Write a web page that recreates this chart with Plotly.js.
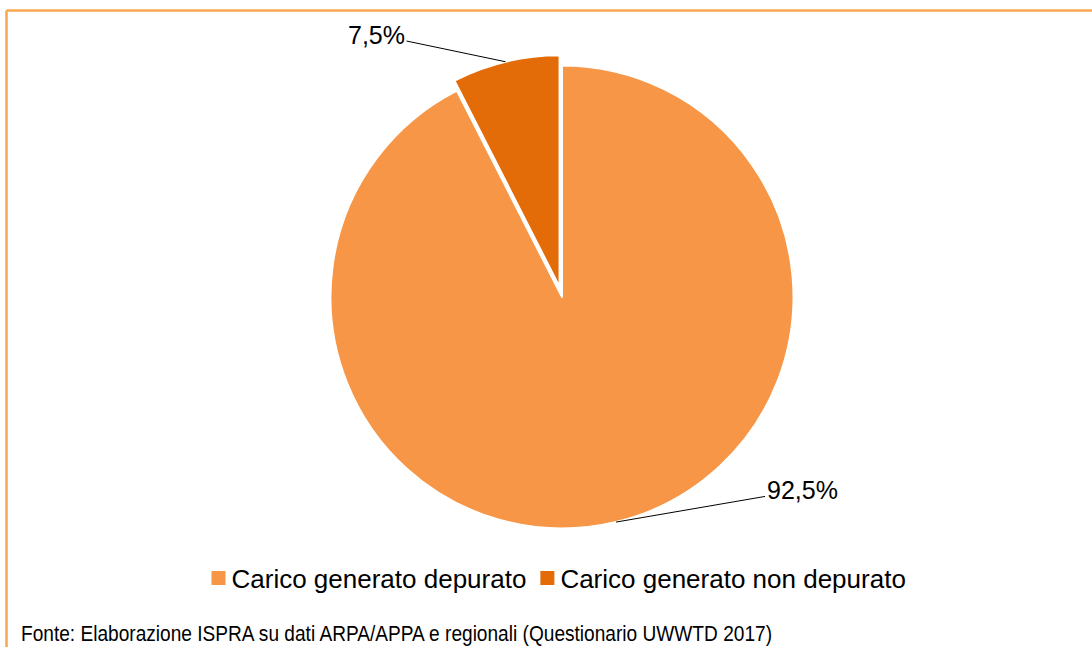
<!DOCTYPE html>
<html>
<head>
<meta charset="utf-8">
<script src="https://cdn.plot.ly/plotly-3.0.1.min.js"></script>
<style>html,body{margin:0;padding:0;background:#fff;}#chart{width:1092px;height:647px;}</style>
</head>
<body>
<div id="chart"></div>
<script>
// ---- data ----
var categories = ["Carico generato depurato", "Carico generato non depurato"];
var values = [92.5, 7.5];
var sourceNote = "Fonte: Elaborazione ISPRA su dati ARPA/APPA e regionali (Questionario UWWTD 2017)";

// ---- style ----
var colors = ["#F79646", "#E36C09"];
var pulls = [0, 0.045];
var labelOffsets = [[186, -32], [-129, -27]]; // text offset (px) from slice edge
var W = 1092, H = 647;
var domX = [0.2, 0.8293], domY = [0.1671, 0.9149];
var noteLeft = 19, noteWidth = 751;

var total = values.reduce(function(a, b){ return a + b; }, 0);
var maxPull = Math.max.apply(null, pulls);
var boxW = W * (domX[1] - domX[0]), boxH = H * (domY[1] - domY[0]);
var r = Math.min(boxW, boxH) / (2 + 2 * maxPull);
var cx = W * (domX[0] + domX[1]) / 2;
var cy = H * (1 - domY[0]) - boxH / 2;

var annotations = [];
var cum = 0;
for (var i = 0; i < values.length; i++) {
  var frac = values[i] / total;
  var mid = (cum + frac / 2) * 2 * Math.PI; // clockwise from 12 o'clock
  cum += frac;
  var pr = r * (1 + pulls[i]);
  var px = cx + pr * Math.sin(mid);
  var py = cy - pr * Math.cos(mid);
  annotations.push({
    x: px / W, y: 1 - py / H, xref: 'paper', yref: 'paper',
    text: (frac * 100).toFixed(1).replace('.', ',') + '%',
    showarrow: true, arrowhead: 0, arrowwidth: 1, arrowcolor: '#000', standoff: 0,
    ax: labelOffsets[i][0], ay: labelOffsets[i][1],
    font: {family: 'Liberation Sans, Arial, sans-serif', size: 25, color: '#000'}
  });
}
annotations.push({
  x: noteLeft / W, y: 1 - 633 / H, xref: 'paper', yref: 'paper', xanchor: 'left', yanchor: 'middle',
  text: sourceNote, showarrow: false,
  font: {family: 'Liberation Sans, Arial, sans-serif', size: 22, color: '#000'}
});

var trace = {
  type: 'pie',
  labels: categories,
  values: values,
  sort: false,
  direction: 'clockwise',
  rotation: 0,
  pull: pulls,
  textinfo: 'none',
  hoverinfo: 'label+percent',
  marker: {colors: colors, line: {color: '#fff', width: 2}},
  domain: {x: domX, y: domY}
};

var layout = {
  width: W, height: H,
  margin: {l: 0, r: 0, t: 0, b: 0},
  paper_bgcolor: '#fff',
  separators: ',.',
  showlegend: true,
  legend: {
    orientation: 'h', x: 557 / W, xanchor: 'center', y: 1 - 578 / H, yanchor: 'middle',
    font: {family: 'Liberation Sans, Arial, sans-serif', size: 26, color: '#000'},
    itemclick: false
  },
  annotations: annotations,
  shapes: [
    {type: 'line', xref: 'paper', yref: 'paper', x0: 6.5 / W, x1: 1, y0: 1 - 10.5 / H, y1: 1 - 10.5 / H, line: {color: '#F9A64E', width: 2.5}},
    {type: 'line', xref: 'paper', yref: 'paper', x0: 6.5 / W, x1: 6.5 / W, y0: 1 - 10.5 / H, y1: 0, line: {color: '#F9A64E', width: 2.5}}
  ]
};

Plotly.newPlot('chart', [trace], layout, {displayModeBar: false, staticPlot: true}).then(function(gd){
  // narrow (condensed) look of the source note, kept left-aligned
  var notes = gd.querySelectorAll('g.annotation');
  var last = notes[notes.length - 1];
  if (last) {
    var t = last.querySelector('text.annotation-text');
    if (t) {
      var w0 = t.getComputedTextLength();
      var x0 = parseFloat(t.getAttribute('x')) || 0;
      var anchor = t.getAttribute('text-anchor') || 'start';
      var left = anchor === 'middle' ? x0 - w0 / 2 : (anchor === 'end' ? x0 - w0 : x0);
      t.setAttribute('text-anchor', 'start');
      t.setAttribute('x', left);
      t.setAttribute('textLength', noteWidth);
      t.setAttribute('lengthAdjust', 'spacingAndGlyphs');
    }
  }
  // larger legend squares, closer to the text
  gd.querySelectorAll('g.legend .legendpoints path').forEach(function(p){
    var tr = p.getAttribute('transform') || '';
    p.setAttribute('transform', tr + ' translate(7,0) scale(1.4)');
  });
  // tighter spacing between legend entries
  var items = gd.querySelectorAll('g.legend g.traces');
  for (var k = 1; k < items.length; k++) {
    var tr = items[k].getAttribute('transform') || '';
    var m = tr.match(/translate\(\s*([-\d.]+)[ ,]+([-\d.]+)\s*\)/);
    if (m) items[k].setAttribute('transform', 'translate(' + (parseFloat(m[1]) - 11 * k) + ',' + m[2] + ')');
  }
});
</script>
</body>
</html>
